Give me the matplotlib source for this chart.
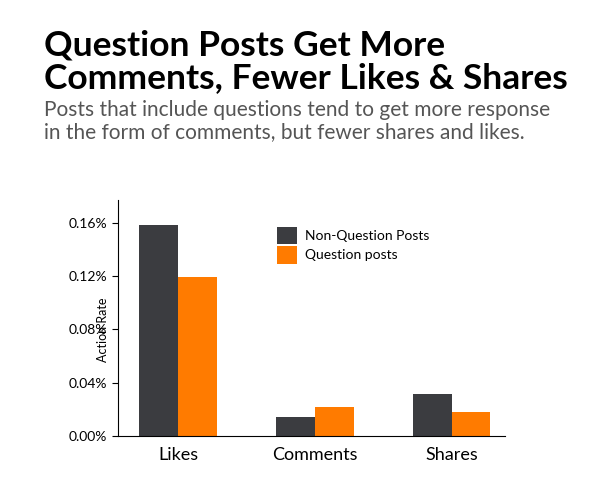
import numpy as np
from matplotlib import pyplot as plt

categories = ["Likes", "Comments", "Shares"]
non_question = [0.158, 0.0143, 0.0316]
question = [0.119, 0.0218, 0.018]
yticks = [0.0, 0.04, 0.08, 0.12, 0.16]

dark = "#3b3c40"
orange = "#ff7b00"

plt.rcParams['font.family'] = ['Lato', 'DejaVu Sans']

fig = plt.figure(figsize=(6.01, 4.84), dpi=100)
ax = fig.add_axes([0.196, 0.099, 0.644, 0.488])

x = np.arange(len(categories))
w = 0.285
ax.bar(x - w / 2, non_question, w, color=dark, label="Non-Question Posts")
ax.bar(x + w / 2, question, w, color=orange, label="Question posts")

ax.set_xlim(-0.44, 2.39)
ax.set_ylim(0, 0.177)
ax.set_xticks(x)
ax.set_xticklabels(categories, fontsize=13)
ax.set_yticks(yticks)
ax.set_yticklabels(["{:.2f}%".format(v) for v in yticks], fontsize=10)
ax.tick_params(axis='x', length=0, pad=8)
ax.tick_params(axis='y', length=4, direction='out')
for s in ['top', 'right']:
    ax.spines[s].set_visible(False)
fig.text(103 / 601, 1 - 330 / 484, "Action Rate", fontsize=9, rotation=90,
         ha='center', va='center')

ax.legend(loc='upper left', bbox_to_anchor=(0.38, 0.94), frameon=False,
          fontsize=10, handlelength=1.4, handleheight=1.6, labelspacing=0.1,
          handletextpad=0.6)

fig.text(0.073, 1 - 94 / 484, "Question Posts Get More\nComments, Fewer Likes & Shares",
         fontsize=25.5, fontweight='bold', color='black', va='bottom', linespacing=1.0)
fig.text(0.073, 1 - 100 / 484, "Posts that include questions tend to get more response\n"
         "in the form of comments, but fewer shares and likes.",
         fontsize=15, color='#555555', va='top', linespacing=1.15)

plt.savefig('out.png', dpi=100)
